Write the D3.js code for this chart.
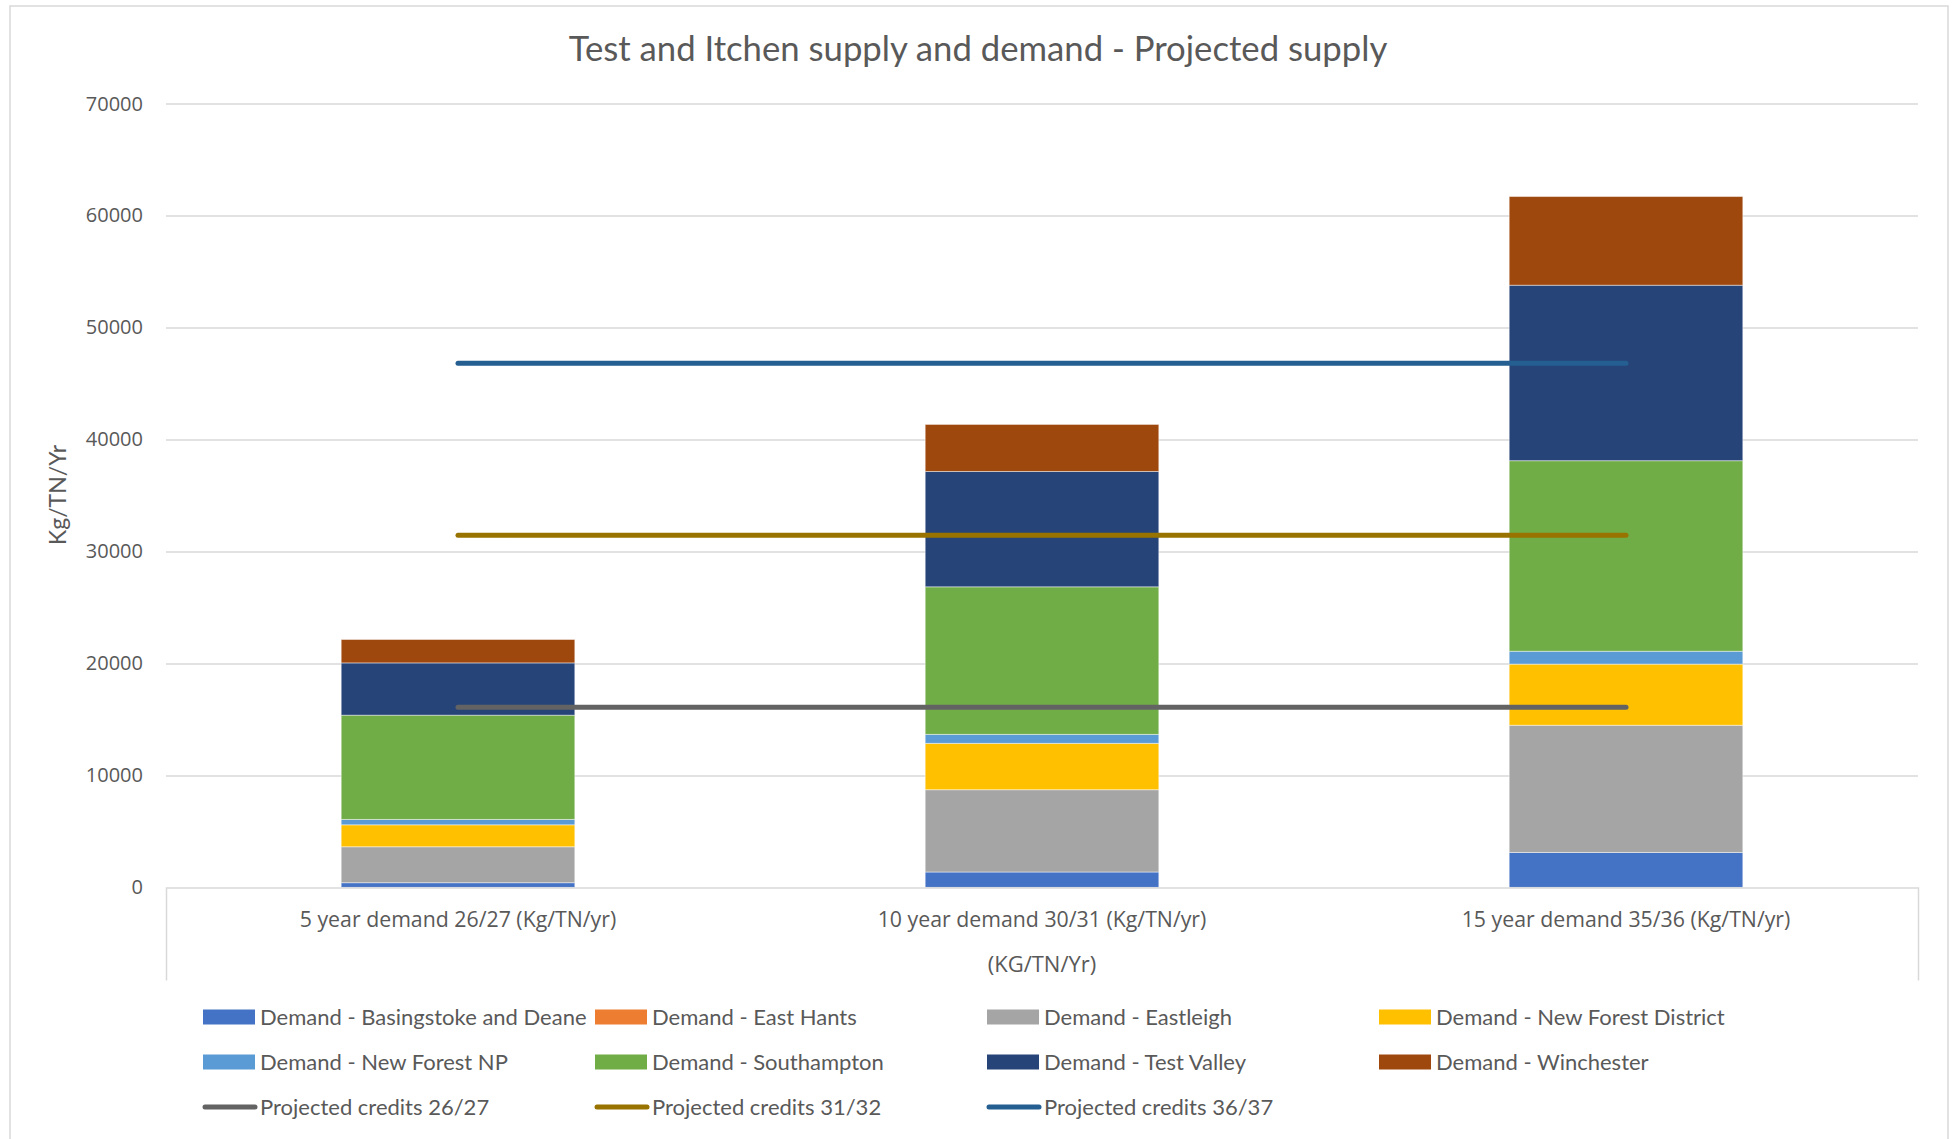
<!DOCTYPE html>
<html>
<head>
<meta charset="utf-8">
<script src="https://cdn.jsdelivr.net/npm/d3@7"></script>
<style>
  body { margin: 0; background: #fff; }
  svg { display: block; }
</style>
</head>
<body>
<div id="chart"></div>
<script>
const width = 1957;
const height = 1139;
const margin = { top: 103.6, right: 39, bottom: 251.6, left: 166 };

const categories = [
  '5 year demand 26/27 (Kg/TN/yr)',
  '10 year demand 30/31 (Kg/TN/yr)',
  '15 year demand 35/36 (Kg/TN/yr)'
];

const basingstoke = [420, 1375, 3120];
const eastHants = [0, 0, 0];
const eastleigh = [3210, 7350, 11360];
const newForestDistrict = [1960, 4140, 5460];
const newForestNP = [480, 800, 1150];
const southampton = [9310, 13180, 17020];
const testValley = [4670, 10300, 15670];
const winchester = [2090, 4200, 7920];

const credits2627 = [16100, 16100, 16100];
const credits3132 = [31450, 31450, 31450];
const credits3637 = [46800, 46800, 46800];

const yTicks = [0, 10000, 20000, 30000, 40000, 50000, 60000, 70000];

const barSeries = [
  { name: 'Demand - Basingstoke and Deane', values: basingstoke, color: '#4472C4' },
  { name: 'Demand - East Hants', values: eastHants, color: '#ED7D31' },
  { name: 'Demand - Eastleigh', values: eastleigh, color: '#A5A5A5' },
  { name: 'Demand - New Forest District', values: newForestDistrict, color: '#FFC000' },
  { name: 'Demand - New Forest NP', values: newForestNP, color: '#5B9BD5' },
  { name: 'Demand - Southampton', values: southampton, color: '#70AD47' },
  { name: 'Demand - Test Valley', values: testValley, color: '#264478' },
  { name: 'Demand - Winchester', values: winchester, color: '#9E480E' }
];
const lineSeries = [
  { name: 'Projected credits 26/27', values: credits2627, color: '#636363' },
  { name: 'Projected credits 31/32', values: credits3132, color: '#997300' },
  { name: 'Projected credits 36/37', values: credits3637, color: '#255E91' }
];

const CALIBRI = "Lato, 'Open Sans', sans-serif";
const SEGOE = "'Open Sans', 'Noto Sans', sans-serif";
const TEXT_COLOR = '#595959';
const GRID_COLOR = '#D9D9D9';

const svg = d3.select('#chart')
  .append('svg')
  .attr('width', width)
  .attr('height', height);

// chart area border
svg.append('rect')
  .attr('x', 10)
  .attr('y', 6)
  .attr('width', 1938)
  .attr('height', 1150)
  .attr('fill', 'none')
  .attr('stroke', GRID_COLOR)
  .attr('stroke-width', 1.5);

const x = d3.scaleBand()
  .domain(categories)
  .range([margin.left, width - margin.right])
  .paddingInner(0.6)
  .paddingOuter(0.3);

const y = d3.scaleLinear()
  .domain([0, 70000])
  .range([height - margin.bottom, margin.top]);

// gridlines
svg.append('g')
  .attr('class', 'grid')
  .attr('transform', `translate(${margin.left},0)`)
  .call(d3.axisLeft(y).tickValues(yTicks.slice(1)).tickSize(-(width - margin.left - margin.right)).tickFormat(''))
  .call((g) => g.select('.domain').remove())
  .call((g) => g.selectAll('line').attr('stroke', GRID_COLOR).attr('stroke-width', 1.5));

// y axis labels
svg.append('g')
  .attr('transform', `translate(${margin.left},0)`)
  .call(d3.axisLeft(y).tickValues(yTicks).tickSize(0).tickPadding(23).tickFormat(d3.format('d')))
  .call((g) => g.select('.domain').remove())
  .call((g) => g.selectAll('text')
    .attr('fill', TEXT_COLOR)
    .style('font-family', SEGOE)
    .style('font-size', '20px'));

// stacked bars
const stackData = categories.map((c, i) => {
  const row = { category: c };
  barSeries.forEach((s) => { row[s.name] = s.values[i]; });
  return row;
});
const stack = d3.stack().keys(barSeries.map((s) => s.name));
const layers = stack(stackData);

svg.append('g')
  .selectAll('g')
  .data(layers)
  .enter().append('g')
    .attr('fill', (d, i) => barSeries[i].color)
  .selectAll('rect')
  .data((d) => d)
  .enter().append('rect')
    .attr('x', (d) => x(d.data.category))
    .attr('y', (d) => y(d[1]))
    .attr('width', x.bandwidth())
    .attr('height', (d) => y(d[0]) - y(d[1]))
    .attr('stroke', '#fff')
    .attr('stroke-opacity', (d) => (d[1] - d[0] > 0 ? 0.45 : 0))
    .attr('stroke-width', 1);

// x axis with outer ticks down to label box
svg.append('g')
  .attr('transform', `translate(0,${y(0)})`)
  .call(d3.axisBottom(x).tickSizeInner(0).tickSizeOuter(93).tickPadding(0))
  .call((g) => g.select('.domain').attr('stroke', GRID_COLOR).attr('stroke-width', 1.5))
  .call((g) => g.selectAll('.tick text')
    .attr('y', 40)
    .attr('dy', 0)
    .attr('fill', TEXT_COLOR)
    .style('font-family', SEGOE)
    .style('font-size', '21.3px'));

// projected credit lines
const line = d3.line()
  .x((d, i) => x(categories[i]) + x.bandwidth() / 2)
  .y((d) => y(d));

svg.append('g')
  .selectAll('path')
  .data(lineSeries)
  .enter().append('path')
    .attr('d', (d) => line(d.values))
    .attr('fill', 'none')
    .attr('stroke', (d) => d.color)
    .attr('stroke-width', 5)
    .attr('stroke-linecap', 'round');

// title
svg.append('text')
  .attr('x', (margin.left + width - margin.right) / 2 - 64)
  .attr('y', 61)
  .attr('text-anchor', 'middle')
  .attr('fill', TEXT_COLOR)
  .style('font-family', CALIBRI)
  .style('font-size', '34.7px')
  .text('Test and Itchen supply and demand - Projected supply');

// axis titles
svg.append('text')
  .attr('transform', 'translate(66,495) rotate(-90)')
  .attr('text-anchor', 'middle')
  .attr('fill', TEXT_COLOR)
  .style('font-family', CALIBRI)
  .style('font-size', '23px')
  .text('Kg/TN/Yr');

svg.append('text')
  .attr('x', (margin.left + width - margin.right) / 2)
  .attr('y', 972)
  .attr('text-anchor', 'middle')
  .attr('fill', TEXT_COLOR)
  .style('font-family', SEGOE)
  .style('font-size', '22px')
  .text('(KG/TN/Yr)');

// legend
const LEGEND_X = 203;
const LEGEND_Y = 1017;
const LEGEND_H_SPACING = 392;
const LEGEND_V_SPACING = 45;
const LEGEND_SWATCH_W = 52;
const LEGEND_SWATCH_H = 15;
const legendItems = barSeries.map((s) => ({ ...s, type: 'bar' }))
  .concat(lineSeries.map((s) => ({ ...s, type: 'line' })));

const legendElement = svg.append('g')
  .selectAll('g')
  .data(legendItems)
  .enter().append('g')
    .attr('transform', (d, i) => `translate(${LEGEND_X + (i % 4) * LEGEND_H_SPACING}, ${LEGEND_Y + Math.floor(i / 4) * LEGEND_V_SPACING})`);

legendElement.filter((d) => d.type === 'bar').append('rect')
  .attr('x', 0)
  .attr('y', -LEGEND_SWATCH_H / 2)
  .attr('width', LEGEND_SWATCH_W)
  .attr('height', LEGEND_SWATCH_H)
  .attr('fill', (d) => d.color);

legendElement.filter((d) => d.type === 'line').append('line')
  .attr('x1', 2)
  .attr('x2', LEGEND_SWATCH_W)
  .attr('y1', 0)
  .attr('y2', 0)
  .attr('stroke', (d) => d.color)
  .attr('stroke-width', 5)
  .attr('stroke-linecap', 'round');

legendElement.append('text')
  .attr('x', LEGEND_SWATCH_W + 5)
  .attr('y', 0)
  .attr('dy', '0.35em')
  .attr('fill', TEXT_COLOR)
  .style('font-family', CALIBRI)
  .style('font-size', '22px')
  .text((d) => d.name);
</script>
</body>
</html>
